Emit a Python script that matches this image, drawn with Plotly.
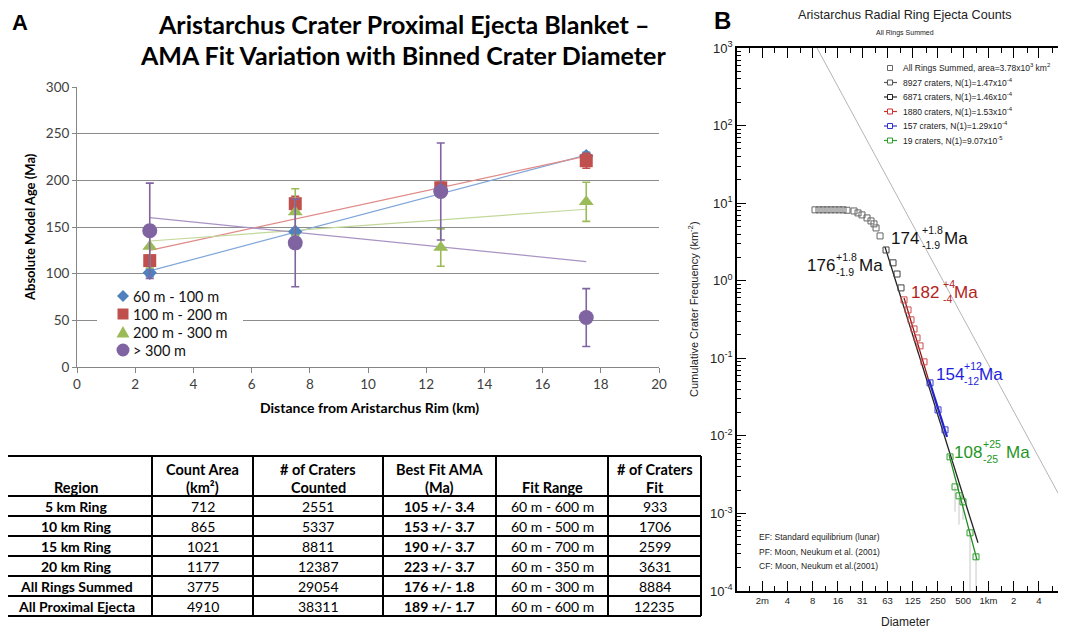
import plotly.graph_objects as go

W, H = 1066, 629
OFF = 8  # the page body adds an 8px margin around the figure

# ---------------- Panel A data ----------------
distance_km = [2.5, 7.5, 12.5, 17.5]
series_names = ["60 m - 100 m", "100 m - 200 m", "200 m - 300 m", "> 300 m"]
age_60_100 = [101, 145, 188, 226]
age_100_200 = [114, 175, 192, 221]
age_200_300 = [129, 166, 128, 177]
age_300_plus = [146, 133, 188, 53]
err_60_100 = [4, 4, 4, 4]
err_100_200 = [5, 8, 6, 8]
err_200_300 = [23, 25, 20, 21]
err_300_plus = [51, 47, 52, 31]
trend_x = [2.5, 17.5]
trend_60_100 = [103, 227]
trend_100_200 = [125, 226]
trend_200_300 = [135, 169]
trend_300_plus = [160, 113]
x_ticks_a = [0, 2, 4, 6, 8, 10, 12, 14, 16, 18, 20]
y_ticks_a = [0, 50, 100, 150, 200, 250, 300]

# ---------------- Table data ----------------
table_headers = [["", "Region"], ["Count Area", "(km²)"], ["# of Craters", "Counted"],
                 ["Best Fit AMA", "(Ma)"], ["", "Fit Range"], ["# of Craters", "Fit"]]
regions = ["5 km Ring", "10 km Ring", "15 km Ring", "20 km Ring",
           "All Rings Summed", "All Proximal Ejecta"]
count_area = [712, 865, 1021, 1177, 3775, 4910]
craters_counted = [2551, 5337, 8811, 12387, 29054, 38311]
best_fit_ama = ["105 +/- 3.4", "153 +/- 3.7", "190 +/- 3.7", "223 +/- 3.7",
                "176 +/- 1.8", "189 +/- 1.7"]
fit_range = ["60 m - 600 m", "60 m - 500 m", "60 m - 700 m", "60 m - 350 m",
             "60 m - 300 m", "60 m - 600 m"]
craters_fit = [933, 1706, 2599, 3631, 8884, 12235]

# ---------------- Panel B data (diameter in m, N in km^-2) ----------------
all_D = [8.53, 9.52, 10.62, 11.86, 13.23, 14.77, 16.49, 18.40, 20.54,
         24.9, 27.8, 31.0, 35.6, 39.7, 43.1, 45.6, 50.9]
all_N = [8.2, 8.2, 8.2, 8.2, 8.2, 8.2, 8.2, 8.2, 8.1,
         7.93, 7.48, 7.05, 6.45, 5.90, 5.40, 4.79, 3.78]
black_D = [60.0, 72.7, 81.2, 90.6]
black_N = [2.49, 1.70, 1.22, 0.808]
red_D = [98.4, 109.8, 119.2, 129.5, 140.6, 152.7, 170.4]
red_N = [0.566, 0.420, 0.313, 0.239, 0.183, 0.1445, 0.0899]
blue_D = [201, 250.4, 303.4]
blue_N = [0.0482, 0.0216, 0.01194]
green_D = [348.2, 399.4, 445.9, 497.6, 603.2, 711.2]
green_N = [0.00536, 0.0022, 0.001686, 0.00141, 0.000562, 0.000276]
green_err_minus = [0.0, 0.00115, 0.00097, 0.00058, 0.00053, 0.00026]
fit_black_D = [58.3, 751]
fit_black_N = [2.73, 0.000418]
fit_red_D = [98.4, 201]
fit_red_N = [0.60, 0.0454]
fit_blue_D = [195.5, 320.6]
fit_blue_N = [0.0527, 0.0097]
fit_green_D = [338.8, 731]
fit_green_N = [0.00569, 0.000252]
equil_D = [9.01, 9500]
equil_N = [1000, 0.00093]
x_ticks_b = [2, 4, 8, 16, 31.25, 62.5, 125, 250, 500, 1000, 2000, 4000, 8000]
x_ticktext_b = ["2m", "4", "8", "16", "31", "63", "125", "250", "500", "1km", "2", "4", "8"]
x_minor_b = [1.414, 2.828, 5.657, 11.31, 22.63, 45.25, 90.51, 181.0, 362.0,
             724.1, 1448, 2896, 5793]
y_ticks_b = [1e-4, 1e-3, 1e-2, 1e-1, 1, 10, 100, 1000]
y_ticktext_b = ["10<sup>-4</sup>", "10<sup>-3</sup>", "10<sup>-2</sup>", "10<sup>-1</sup>",
                "10<sup>0</sup>", "10<sup>1</sup>", "10<sup>2</sup>", "10<sup>3</sup>"]
y_minor_b = [m * 10 ** e for e in range(-4, 3) for m in range(2, 10)]

legend_b_labels = [
    "All Rings Summed, area=3.78x10<sup>3</sup> km<sup>2</sup>",
    "8927 craters, N(1)=1.47x10<sup>-4</sup>",
    "6871 craters, N(1)=1.46x10<sup>-4</sup>",
    "1880 craters, N(1)=1.53x10<sup>-4</sup>",
    "157 craters, N(1)=1.29x10<sup>-4</sup>",
    "19 craters, N(1)=9.07x10<sup>-5</sup>",
]
legend_b_colors = ["#666666", "#555555", "#222222", "#cc3333", "#3333cc", "#2e9e2e"]


def PX(x):
    return (x - OFF) / W


def PY(y):
    return 1 - (y - OFF) / H


CAL = "Lato, Carlito, Calibri, sans-serif"
HEL = "Liberation Sans, Arial, Helvetica, sans-serif"

colors_a = ["#4F81BD", "#C0504D", "#9BBB59", "#8064A2"]
trend_colors = ["#7FA6D8", "#E08A88", "#C2D89A", "#A893C4"]
symbols_a = ["diamond", "square", "triangle-up", "circle"]
sizes_a = [11, 13, 13, 15]
ages = [age_60_100, age_100_200, age_200_300, age_300_plus]
errs = [err_60_100, err_100_200, err_200_300, err_300_plus]
trends = [trend_60_100, trend_100_200, trend_200_300, trend_300_plus]

fig = go.Figure()

# ---- Panel A traces ----
for i in range(4):
    fig.add_trace(go.Scatter(
        x=trend_x, y=trends[i], mode="lines",
        line=dict(color=trend_colors[i], width=1.2),
        showlegend=False, hoverinfo="skip", xaxis="x", yaxis="y"))
for i in range(4):
    fig.add_trace(go.Scatter(
        x=distance_km, y=ages[i], mode="markers", name=series_names[i],
        marker=dict(symbol=symbols_a[i], size=sizes_a[i], color=colors_a[i]),
        error_y=dict(type="data", array=errs[i], color=colors_a[i],
                     thickness=1.6, width=4),
        showlegend=False, xaxis="x", yaxis="y"))

# ---- Panel B traces ----
fig.add_trace(go.Scatter(x=equil_D, y=equil_N, mode="lines",
                         line=dict(color="#b5b5b5", width=1), showlegend=False,
                         xaxis="x2", yaxis="y2", hoverinfo="skip"))
fig.add_trace(go.Scatter(x=green_D, y=green_N, mode="markers",
                         marker=dict(size=0.1, color="rgba(0,0,0,0)"),
                         error_y=dict(type="data", symmetric=False, array=[0] * len(green_D),
                                      arrayminus=green_err_minus, color="#c8c8c8",
                                      thickness=1, width=0),
                         showlegend=False, xaxis="x2", yaxis="y2", hoverinfo="skip"))
for fx, fy, col, wd in [(fit_black_D, fit_black_N, "#222222", 1.3),
                        (fit_red_D, fit_red_N, "#9a1010", 1.3),
                        (fit_blue_D, fit_blue_N, "#2222cc", 2.2),
                        (fit_green_D, fit_green_N, "#238a23", 1.3)]:
    fig.add_trace(go.Scatter(x=fx, y=fy, mode="lines", line=dict(color=col, width=wd),
                             showlegend=False, xaxis="x2", yaxis="y2", hoverinfo="skip"))
for dx, dy, col in [(all_D, all_N, "#666666"), (black_D, black_N, "#444444"),
                    (red_D, red_N, "#d04a4a"), (blue_D, blue_N, "#3a3ad0"),
                    (green_D, green_N, "#2e9e2e")]:
    fig.add_trace(go.Scatter(x=dx, y=dy, mode="markers",
                             marker=dict(symbol="square-open", size=6, color=col,
                                         line=dict(width=1)),
                             showlegend=False, xaxis="x2", yaxis="y2", hoverinfo="skip"))

annotations = []
shapes = []


def ann(x, y, text, size, family, color="black", xanchor="center", angle=0):
    annotations.append(dict(x=PX(x), y=PY(y), xref="paper", yref="paper", text=text,
                            showarrow=False, xanchor=xanchor, yanchor="middle",
                            textangle=angle, font=dict(family=family, size=size, color=color)))


# Panel A texts
ann(20, 22, "<b>A</b>", 22, HEL)
ann(403, 24, "<b>Aristarchus Crater Proximal Ejecta Blanket –</b>", 25, CAL)
ann(403, 55, "<b>AMA Fit Variation with Binned Crater Diameter</b>", 25, CAL)
ann(370, 407, "<b>Distance from Aristarchus Rim (km)</b>", 14, CAL)
ann(30, 227, "<b>Absolute Model Age (Ma)</b>", 13, CAL, angle=-90)

# Panel A legend (manual)
shapes.append(dict(type="rect", xref="paper", yref="paper", x0=PX(97), x1=PX(243),
                   y0=PY(287), y1=PY(358), fillcolor="white", line=dict(width=0),
                   layer="above"))


def ppath(pts):
    return "M " + " L ".join(f"{PX(a):.5f},{PY(b):.5f}" for a, b in pts) + " Z"


leg_y = [296, 314, 332, 350]
shapes.append(dict(type="path", xref="paper", yref="paper", layer="above",
                   path=ppath([(123, leg_y[0] - 6), (129, leg_y[0]), (123, leg_y[0] + 6),
                               (117, leg_y[0])]),
                   fillcolor=colors_a[0], line=dict(width=0)))
shapes.append(dict(type="rect", xref="paper", yref="paper", layer="above",
                   x0=PX(117.5), x1=PX(128.5), y0=PY(leg_y[1] - 5.5), y1=PY(leg_y[1] + 5.5),
                   fillcolor=colors_a[1], line=dict(width=0)))
shapes.append(dict(type="path", xref="paper", yref="paper", layer="above",
                   path=ppath([(123, leg_y[2] - 6), (129.5, leg_y[2] + 5.5),
                               (116.5, leg_y[2] + 5.5)]),
                   fillcolor=colors_a[2], line=dict(width=0)))
shapes.append(dict(type="circle", xref="paper", yref="paper", layer="above",
                   x0=PX(116.5), x1=PX(129.5), y0=PY(leg_y[3] - 6.5), y1=PY(leg_y[3] + 6.5),
                   fillcolor=colors_a[3], line=dict(width=0)))
for name, yy in zip(series_names, leg_y):
    ann(131, yy, name, 14.5, CAL, "#111", xanchor="left")

# ---- Table (manual) ----
col_edges = [9, 152, 253, 383, 496, 608, 701]
row_edges = [456, 496, 516, 536, 556, 576, 596, 616]
for xe in col_edges[1:]:
    shapes.append(dict(type="line", xref="paper", yref="paper", x0=PX(xe), x1=PX(xe),
                       y0=PY(row_edges[0]), y1=PY(row_edges[-1]),
                       line=dict(color="black", width=2)))
for ye in row_edges:
    shapes.append(dict(type="line", xref="paper", yref="paper", x0=PX(8),
                       x1=PX(col_edges[-1]), y0=PY(ye), y1=PY(ye),
                       line=dict(color="black", width=2)))
col_centers = [76, 202.5, 318, 439.5, 552, 654.5]
for c, (l1, l2) in zip(col_centers, table_headers):
    if l1:
        ann(c, 469, "<b>" + l1 + "</b>", 14.5, CAL)
    ann(c, 487, "<b>" + l2 + "</b>", 14.5, CAL)
columns = [["<b>" + r + "</b>" for r in regions], count_area, craters_counted,
           ["<b>" + b + "</b>" for b in best_fit_ama], fit_range, craters_fit]
for c, colvals in zip(col_centers, columns):
    for r, v in enumerate(colvals):
        ann(c, (row_edges[r + 1] + row_edges[r + 2]) / 2 + 0.5, str(v), 14, CAL)

# Panel B texts
ann(722, 20, "<b>B</b>", 24, HEL)
ann(905, 15, "Aristarchus Radial Ring Ejecta Counts", 12.6, HEL, "#222")
ann(905, 33, "All Rings Summed", 7, HEL, "#222")
ann(905, 622, "Diameter", 12, HEL, "#222")
ann(693, 309, "Cumulative Crater Frequency (km<sup>-2</sup>)", 11, HEL, "#222", angle=-90)
for i, t in enumerate(["EF: Standard equilibrium (lunar)", "PF: Moon, Neukum et al. (2001)",
                       "CF: Moon, Neukum et al.(2001)"]):
    ann(757, 537 + 14.5 * i, t, 8.5, HEL, "#222", xanchor="left")

age_labels = [
    ("176", "+1.8", "-1.9", 805, 265, 834, 857, "#111111"),
    ("174", "+1.8", "-1.9", 889, 238, 920, 942, "#111111"),
    ("182", "+4", "-4", 909, 292, 941, 952, "#b22222"),
    ("154", "+12", "-12", 934, 374, 962, 977, "#1e1ee0"),
    ("108", "+25", "-25", 952, 452, 981, 1004, "#1f961f"),
]
for num, up, dn, x0, y0, xs, xm, col in age_labels:
    ann(x0, y0, num, 17, HEL, col, xanchor="left")
    ann(xs, y0 - 8, up, 10.5, HEL, col, xanchor="left")
    ann(xs, y0 + 7, dn, 10.5, HEL, col, xanchor="left")
    ann(xm, y0, "Ma", 17, HEL, col, xanchor="left")

for i, (lab, col) in enumerate(zip(legend_b_labels, legend_b_colors)):
    yy = 68 + 14.5 * i
    ann(901, yy, lab, 8.5, HEL, "#222", xanchor="left")
    if i > 0:
        shapes.append(dict(type="line", xref="paper", yref="paper", x0=PX(884), x1=PX(897),
                           y0=PY(yy), y1=PY(yy), line=dict(color=col, width=1.2)))
    shapes.append(dict(type="rect", xref="paper", yref="paper", x0=PX(887.5), x1=PX(892.5),
                       y0=PY(yy - 2.5), y1=PY(yy + 2.5), fillcolor="white",
                       line=dict(color=col, width=1)))

fig.update_layout(
    width=W, height=H, autosize=False,
    margin=dict(l=0, r=0, t=0, b=0, pad=0, autoexpand=False),
    paper_bgcolor="white", plot_bgcolor="white",
    annotations=annotations, shapes=shapes,
    showlegend=False,
    xaxis=dict(domain=[PX(77), PX(659)], range=[0, 20], tickvals=x_ticks_a,
               showline=True, linecolor="#868686", linewidth=1, ticks="outside",
               ticklen=5, tickcolor="#868686", showgrid=False, zeroline=False,
               automargin=False,
               tickfont=dict(family=CAL, size=13.5, color="#404040"), anchor="y"),
    yaxis=dict(domain=[PY(367), PY(87)], range=[0, 300], tickvals=y_ticks_a,
               showline=True, linecolor="#868686", linewidth=1, ticks="outside",
               ticklen=4, tickcolor="#868686", showgrid=True, gridcolor="#8c8c8c",
               gridwidth=1, zeroline=False, automargin=False,
               tickfont=dict(family=CAL, size=13.5, color="#404040"), anchor="x"),
    xaxis2=dict(domain=[PX(737), 1.0], type="log", range=[0, 4.021], anchor="y2",
                tickvals=x_ticks_b, ticktext=x_ticktext_b, ticks="inside", ticklen=10,
                tickwidth=1.2, tickcolor="black", showline=True, linecolor="black",
                linewidth=1.5, mirror="ticks", showgrid=False, zeroline=False,
                automargin=False,
                tickfont=dict(family=HEL, size=9.5, color="#222"),
                minor=dict(tickmode="array", tickvals=x_minor_b, ticks="inside", ticklen=5,
                           tickwidth=1.2, tickcolor="black", showgrid=False)),
    yaxis2=dict(domain=[PY(591), PY(48)], type="log", range=[-4, 3], anchor="x2",
                tickvals=y_ticks_b, ticktext=y_ticktext_b, ticks="inside", ticklen=9,
                tickwidth=1.2, tickcolor="black", showline=True, linecolor="black",
                linewidth=1.5, mirror="ticks", showgrid=False, zeroline=False,
                automargin=False,
                tickfont=dict(family=HEL, size=13, color="#222"),
                minor=dict(tickmode="array", tickvals=y_minor_b, ticks="inside", ticklen=4,
                           tickwidth=1, tickcolor="black", showgrid=False)),
)

fig.write_html("out.html")
